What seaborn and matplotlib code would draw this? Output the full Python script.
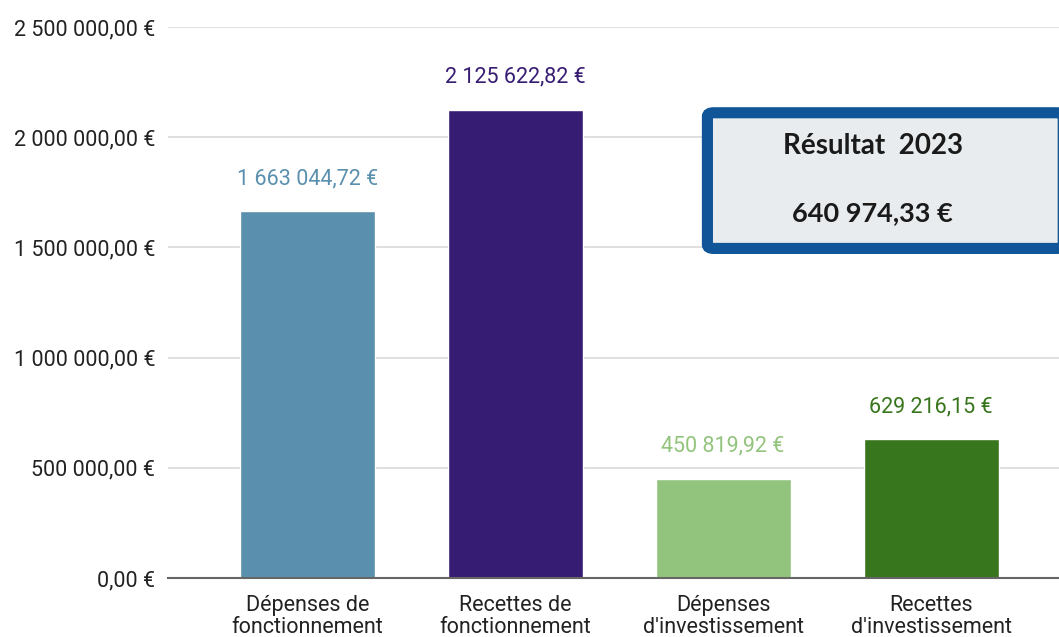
import matplotlib
matplotlib.use("Agg")
import matplotlib.pyplot as plt
import seaborn as sns
import pandas as pd
from matplotlib.patches import FancyBboxPatch
from matplotlib.ticker import FuncFormatter

categories = ["Dépenses de\nfonctionnement", "Recettes de\nfonctionnement",
              "Dépenses\nd'investissement", "Recettes\nd'investissement"]
values = [1663044.72, 2125622.82, 450819.92, 629216.15]
colors = ["#5a90ae", "#371c73", "#93c47d", "#38761d"]
result_title = "Résultat  2023"
result_value = "640 974,33 €"


def euro(v, pos=None):
    s = f"{v:,.2f}".replace(",", " ").replace(".", ",")
    return s + " €"


df = pd.DataFrame({"cat": categories, "val": values})

sns.set_style("white")
plt.rcParams["font.family"] = ["Roboto", "DejaVu Sans"]

fig = plt.figure(figsize=(10.59, 6.37), dpi=100)
ax = fig.add_axes([0.1586, 0.0926, 0.8414, 0.865])

sns.barplot(data=df, x="cat", y="val", hue="cat", palette=colors,
            width=0.65, legend=False, ax=ax, saturation=1)

ax.set_ylim(0, 2500000)
ax.set_xlim(-0.67, 3.615)
ax.set_yticks([0, 500000, 1000000, 1500000, 2000000, 2500000])
ax.yaxis.set_major_formatter(FuncFormatter(euro))
ax.grid(axis="y", color="#d9d9d9", linewidth=1.2)
ax.set_axisbelow(True)
for s in ["top", "right", "left"]:
    ax.spines[s].set_visible(False)
ax.spines["bottom"].set_color("#666666")
ax.spines["bottom"].set_linewidth(1.5)
ax.tick_params(axis="y", length=0, pad=9, labelsize=15.5, labelcolor="#222222")
ax.tick_params(axis="x", length=0, pad=12, labelsize=15.5, labelcolor="#222222")
for lbl in ax.get_xticklabels():
    lbl.set_linespacing(1.1)
ax.set_xlabel("")
ax.set_ylabel("")

for i, (v, c) in enumerate(zip(values, colors)):
    ax.text(i, v + 100000, euro(v), ha="center", va="bottom",
            color=c, fontsize=15.5)

box = FancyBboxPatch((0.668, 0.61), 0.336, 0.213, transform=fig.transFigure,
                     boxstyle="round,pad=0,rounding_size=0.006",
                     facecolor="#e8ecee", edgecolor="#0f5597", linewidth=8,
                     zorder=5)
fig.patches.append(box)
fig.text(0.824, 0.771, result_title, ha="center", va="center",
         fontsize=20, fontweight="bold", family=["Lato", "DejaVu Sans"],
         color="#1a1a1a", zorder=6)
fig.text(0.824, 0.665, result_value, ha="center", va="center",
         fontsize=19.5, fontweight="bold", family=["Lato", "DejaVu Sans"],
         color="#1a1a1a", zorder=6)

fig.savefig("out.png", dpi=100)
